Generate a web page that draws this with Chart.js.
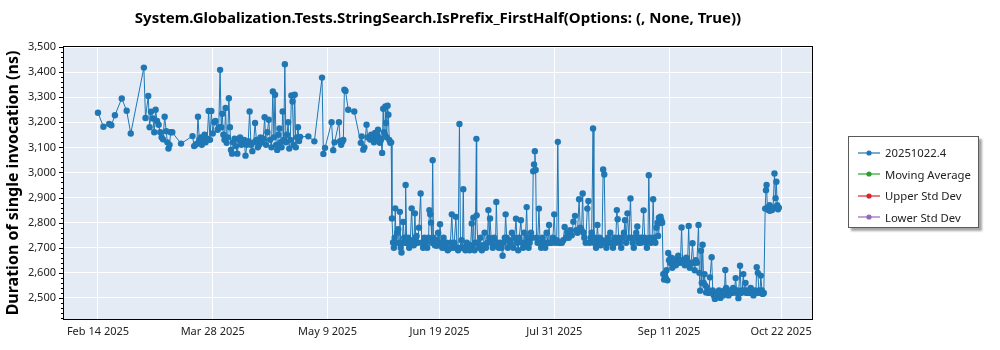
<!DOCTYPE html>
<html>
<head>
<meta charset="utf-8">
<script src="https://cdn.jsdelivr.net/npm/chart.js@4/dist/chart.umd.min.js"></script>
<style>
  html, body { margin: 0; padding: 0; background: #ffffff; }
  #wrap { position: relative; width: 1000px; height: 350px; }
  #legend {
    position: absolute; left: 848px; top: 136px; width: 131px; height: 92px;
    box-sizing: border-box; border: 1px solid #5a5a5a; background: #fff;
    box-shadow: 3px 3px 2px rgba(0,0,0,0.35);
    font-family: "Noto Sans", "Open Sans", sans-serif; font-size: 11.3px; color: #222;
    padding-top: 5px;
  }
  .item { height: 21.5px; display: flex; align-items: center; padding-left: 9px; white-space: nowrap; }
  .item svg { margin-right: 5px; }
</style>
</head>
<body>
<div id="wrap">
  <canvas id="c" width="1000" height="350"></canvas>
  <div id="legend"></div>
</div>
<script>
// ---------------- data ----------------
const chartTitle = "System.Globalization.Tests.StringSearch.IsPrefix_FirstHalf(Options: (, None, True))";
const yAxisTitle = "Duration of single invocation (ns)";
const seriesNames = ["20251022.4", "Moving Average", "Upper Std Dev", "Lower Std Dev"];
const seriesColors = ["#1f77b4", "#2ca02c", "#d62728", "#9467bd"];

// x tick positions, in days since Feb 14 2025
const xTickDays = [0, 42, 84, 125, 167, 209, 250];
const xTickLabels = ["Feb 14 2025", "Mar 28 2025", "May 9 2025", "Jun 19 2025", "Jul 31 2025", "Sep 11 2025", "Oct 22 2025"];
const yTicks = [2500, 2600, 2700, 2800, 2900, 3000, 3100, 3200, 3300, 3400, 3500];

// run dates, in days since Feb 14 2025
const runDays = [
  0,2.0,4.1,4.9,6.2,8.7,10.5,12.0,16.8,17.4,18.4,18.9,19.4,20.1,20.6,21.1,21.6,22.2,22.8,23.3,23.8,24.4,25.0,25.4,25.8,26.2,26.6,27.2,30.4,34.6,35.2,35.7,36.2,36.6,37.1,37.6,38.0,38.5,39.0,39.4,40.0,40.5,41.0,41.5,42.0,42.6,43.0,43.8,
  44.2,44.7,45.1,45.5,45.9,46.3,46.7,47.1,47.5,47.9,48.3,48.7,49.1,49.5,50.0,50.5,51.0,51.5,52.0,52.5,53.0,53.5,54.0,54.5,55.0,55.5,56.0,56.5,57.0,57.5,58.0,58.5,59.0,59.5,60.0,60.5,61.0,61.5,62.0,62.5,63.0,63.5,64.0,64.4,64.8,65.2,65.6,66.0,66.4,66.8,67.2,67.6,68.0,68.4,68.8,69.2,69.6,70.0,70.4,70.8,71.2,71.6,72.0,72.4,72.8,73.2,73.6,74.0,
  77.0,79.2,82.0,82.5,83.1,85.5,86.1,86.6,88.2,88.6,89.0,89.4,89.8,90.2,90.6,91.6,93.8,96.2,96.5,97.1,97.5,98.3,98.7,99.6,100.0,100.5,101.0,101.4,101.8,102.2,102.5,102.8,103.2,103.6,104.0,104.4,104.7,105.0,105.2,105.4,105.7,106.0,106.3,106.6,107.0,107.3,
  107.6,108.0,108.3,108.6,108.8,109.1,109.5,109.9,110.2,110.5,110.8,111.1,111.4,111.7,112.1,112.4,112.6,113.0,113.5,113.9,114.3,114.8,115.2,115.6,116.0,116.3,116.6,117.0,117.5,118.1,118.5,119.0,119.5,120.0,120.5,121.0,121.3,121.6,121.9,122.2,122.5,122.8,123.3,123.6,124.0,124.5,124.8,125.2,125.6,126.0,126.5,127.0,127.5,128.0,128.6,129.0,129.5,130.0,130.4,131.0,131.4,131.8,132.3,132.7,
  133.1,133.4,133.7,134.0,134.5,135.0,135.5,136.0,136.4,136.8,137.1,137.4,137.8,138.1,138.5,138.6,139.0,139.5,140.0,140.5,141.0,141.5,142.0,142.5,142.9,143.2,143.5,144.0,144.5,145.0,145.5,145.8,146.2,146.7,147.2,147.7,148.1,148.5,148.9,149.2,149.6,150.0,150.5,151.0,151.5,152.0,152.5,153.0,153.4,153.8,154.2,154.8,155.2,155.6,156.0,156.4,156.9,157.2,157.6,158.0,158.5,159.0,159.3,159.6,159.9,160.2,160.5,160.9,161.4,161.8,162.2,162.7,163.2,163.7,164.2,164.7,165.1,165.5,
  166.0,166.5,167.0,167.4,167.9,168.3,168.7,169.2,169.8,170.3,170.8,171.3,171.8,172.3,172.8,173.4,174.0,174.6,175.0,175.5,176.1,176.5,177.0,177.4,177.7,178.0,178.5,179.1,179.5,179.9,180.3,180.7,181.2,181.5,181.9,182.3,182.8,183.2,183.6,184.0,184.5,184.9,185.3,185.7,186.1,186.6,187.0,187.5,188.0,188.5,189.0,189.5,189.9,190.2,190.6,191.0,191.5,192.0,192.5,192.9,193.3,193.8,194.3,194.9,195.3,195.7,196.1,196.6,197.0,197.4,197.8,198.2,198.7,199.2,199.7,200.1,200.5,200.9,201.3,201.6,202.0,202.4,202.8,203.2,203.6,204.0,204.4,204.8,205.0,205.3,205.6,205.9,206.2,206.5,
  206.9,207.2,207.5,207.8,208.1,208.4,208.7,209.0,209.4,209.8,210.2,210.6,211.0,211.5,212.0,212.4,212.8,213.2,213.6,214.0,214.4,214.8,215.3,215.8,216.2,216.6,217.1,217.6,218.0,218.4,218.8,219.2,219.8,220.1,220.4,220.7,221.0,221.3,221.7,222.0,222.3,
  222.6,223.0,223.5,224.0,224.6,225.0,225.4,225.8,226.3,226.8,227.3,227.8,228.3,228.8,229.3,229.6,229.9,230.3,230.8,231.3,231.7,232.1,232.5,232.9,233.4,233.8,234.1,234.4,235.0,235.4,235.8,236.2,236.6,237.0,237.4,237.9,238.4,238.9,239.4,239.9,240.4,240.8,241.1,241.5,241.9,242.3,242.6,243.0,243.3,243.7,244.2,244.5,244.7,245.0,245.4,245.8,245.9,246.3,246.7,247.1,247.6,248.0,248.3,248.6,248.9,249.2
];

// duration of single invocation (ns)
const durations = [
  3238,3182,3193,3188,3228,3295,3246,3155,3418,3217,3305,3180,3242,3215,3160,3250,3205,3190,3160,3140,3132,3222,3164,3120,3095,3110,3160,3160,3115,3145,3105,3110,3115,3222,3130,3140,3110,3130,3150,3120,3135,3245,3130,3245,3155,3200,3205,3170,
  3180,3409,3180,3234,3150,3130,3257,3118,3140,3296,3180,3090,3075,3120,3135,3105,3075,3130,3140,3110,3120,3130,3067,3110,3125,3243,3110,3085,3120,3197,3130,3100,3110,3140,3120,3135,3220,3110,3160,3210,3130,3100,3323,3140,3310,3110,3090,3150,3175,3120,3100,3243,3130,3431,3120,3150,3200,3095,3130,3307,3283,3110,3310,3100,3140,3180,3125,3142,
  3144,3124,3378,3074,3098,3200,3089,3120,3200,3125,3110,3122,3130,3330,3325,3250,3243,3118,3144,3091,3100,3190,3140,3131,3150,3140,3120,3157,3130,3150,3170,3140,3118,3130,3078,3254,3160,3150,3263,3197,3140,3266,3230,3130,3118,3120,
  2817,2721,2700,2740,2857,2720,2760,2774,2720,2843,2700,2681,2720,2803,2740,2720,2950,2720,2740,2700,2720,2857,2730,2710,2837,2740,2747,2720,2780,2916,2720,2700,2740,2720,2700,2740,2850,2833,2800,2720,3049,2740,2710,2730,2708,2760,2720,2794,2720,2700,2740,2700,2720,2690,2697,2720,2833,2700,2720,2823,2700,2690,3193,2700,
  2730,2700,2933,2700,2690,2720,2700,2690,2710,2797,2700,2820,2690,2720,3134,2829,2720,2700,2740,2690,2710,2760,2700,2720,2850,2740,2817,2720,2700,2740,2710,2882,2720,2700,2720,2700,2668,2720,2740,2833,2740,2700,2730,2720,2760,2700,2740,2816,2720,2690,2740,2810,2720,2700,2760,2720,2862,2740,2700,2720,2760,2740,3005,3032,3085,3010,2740,2720,2856,2720,2700,2740,2720,2700,2760,2720,2791,2720,
  2720,2740,2833,2720,2730,3122,2720,2720,2720,2730,2783,2740,2760,2740,2770,2750,2804,2827,2770,2760,2893,2780,2770,2916,2760,2740,2720,2856,2886,2720,2740,2760,3175,2720,2740,2700,2791,2720,2740,2710,2730,3012,2992,2720,2700,2740,2720,2760,2720,2700,2740,2720,2850,2814,2740,2720,2700,2740,2760,2810,2720,2837,2740,2896,2740,2720,2700,2740,2760,2785,2720,2740,2720,2740,2849,2740,2720,2700,2730,2989,2740,2720,2730,2893,2740,2720,2780,2800,2747,2820,2798,2824,2810,2800,
  2595,2573,2600,2580,2610,2570,2679,2650,2640,2660,2620,2640,2650,2630,2660,2668,2640,2650,2781,2640,2650,2630,2660,2640,2787,2620,2640,2718,2640,2610,2650,2640,2791,2600,2529,2688,2560,2712,2560,2595,2549,
  2522,2540,2520,2582,2662,2530,2510,2496,2520,2510,2530,2500,2520,2510,2530,2611,2540,2520,2510,2530,2522,2520,2540,2530,2579,2520,2530,2499,2628,2520,2530,2595,2530,2560,2520,2530,2520,2540,2520,2510,2530,2520,2622,2600,2530,2520,2589,2530,2516,2520,2856,2929,2950,2860,2850,2870,2847,2860,2850,2860,2996,2897,2963,2870,2853,2860
];

// ---------------- rendering ----------------
const FONT = "'Noto Sans', 'Open Sans', sans-serif";

const legendEl = document.getElementById('legend');
seriesNames.forEach((name, i) => {
  const c = seriesColors[i];
  const row = document.createElement('div');
  row.className = 'item';
  row.innerHTML = '<svg width="22" height="8"><line x1="0" y1="4" x2="22" y2="4" stroke="' + c +
    '" stroke-width="1.2"/><circle cx="11" cy="4" r="2.6" fill="' + c + '"/></svg><span></span>';
  row.querySelector('span').textContent = name;
  legendEl.appendChild(row);
});

const frame = {
  id: 'frame',
  beforeDraw(chart) {
    const a = chart.chartArea, g = chart.ctx;
    g.save();
    g.fillStyle = '#e5ebf5';
    g.fillRect(a.left, a.top, a.right - a.left, a.bottom - a.top);
    g.restore();
  },
  afterDraw(chart) {
    const a = chart.chartArea, g = chart.ctx, ys = chart.scales.y;
    g.save();
    g.strokeStyle = '#000';
    g.lineWidth = 1;
    g.strokeRect(Math.round(a.left) + 0.5, Math.round(a.top) + 0.5, Math.round(a.right - a.left) - 1, Math.round(a.bottom - a.top) - 1);
    g.beginPath();
    for (let v = 2420; v <= 3500; v += 20) {
      const y = Math.round(ys.getPixelForValue(v)) + 0.5;
      const len = (v % 100 === 0) ? 4 : 2;
      g.moveTo(Math.round(a.left) - len, y);
      g.lineTo(Math.round(a.left), y);
    }
    g.stroke();
    g.restore();
  }
};

new Chart(document.getElementById('c'), {
  type: 'line',
  data: {
    datasets: [{
      label: seriesNames[0],
      data: runDays.map((d, i) => ({ x: d, y: durations[i] })),
      borderColor: seriesColors[0],
      borderWidth: 1,
      pointRadius: 3.2,
      pointBackgroundColor: seriesColors[0],
      pointBorderWidth: 0,
      tension: 0
    }]
  },
  options: {
    responsive: false,
    animation: false,
    layout: { padding: { left: 0, right: 187, top: 0, bottom: 0 } },
    plugins: {
      legend: { display: false },
      tooltip: { enabled: false },
      title: {
        display: true, text: chartTitle, fullSize: false,
        font: { family: FONT, size: 15, weight: 'bold' }, color: '#000',
        padding: { top: 10, bottom: 18 }
      }
    },
    scales: {
      x: {
        type: 'linear', min: -12.8, max: 261.7,
        afterBuildTicks: s => { s.ticks = xTickDays.map(v => ({ value: v })); },
        afterFit: s => { s.height = 30; },
        ticks: {
          autoSkip: false, maxRotation: 0, padding: 5,
          callback: v => xTickLabels[xTickDays.indexOf(v)],
          font: { family: FONT, size: 11 }, color: '#222'
        },
        grid: { color: '#ffffff', lineWidth: 1, drawTicks: false },
        border: { display: false }
      },
      y: {
        min: 2412, max: 3504,
        afterBuildTicks: s => { s.ticks = yTicks.map(v => ({ value: v })); },
        afterFit: s => { s.width = 63; },
        ticks: {
          padding: 7,
          callback: v => v.toLocaleString('en-US'),
          font: { family: FONT, size: 11 }, color: '#222'
        },
        grid: { color: '#ffffff', lineWidth: 1, drawTicks: false },
        border: { display: false },
        title: {
          display: true, text: yAxisTitle, color: '#000',
          font: { family: FONT, size: 16, weight: 'bold' },
          padding: { top: 4, bottom: 0 }
        }
      }
    }
  },
  plugins: [frame]
});
</script>
</body>
</html>
